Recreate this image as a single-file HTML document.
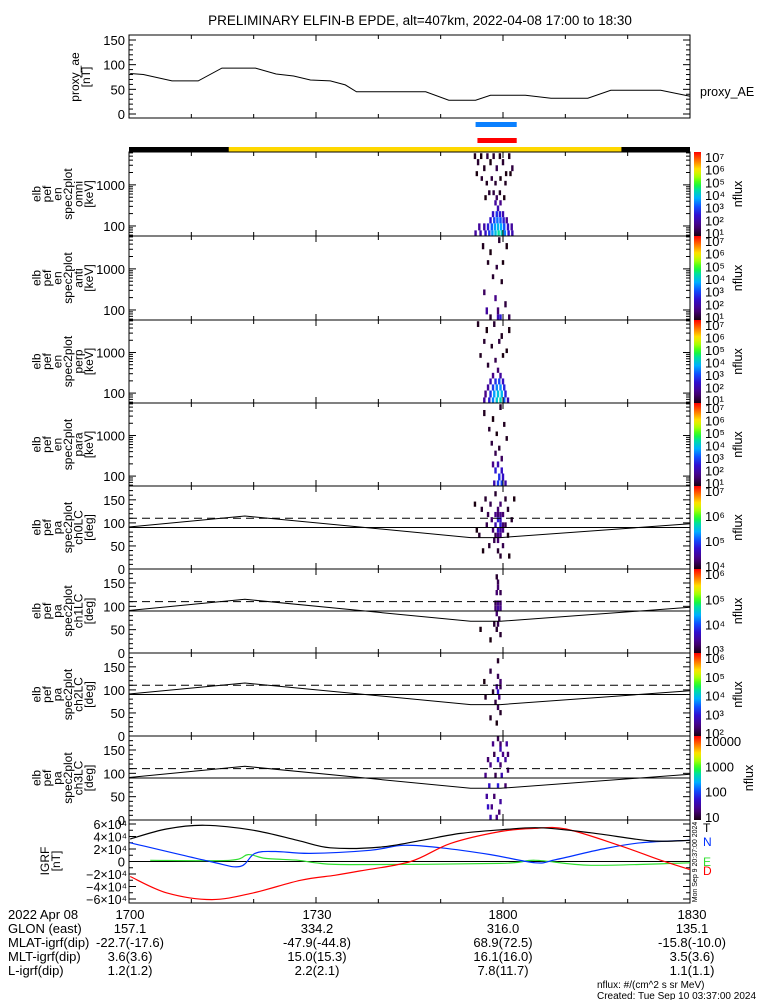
<!DOCTYPE html>
<html><head><meta charset="utf-8"><style>
html,body{margin:0;padding:0;background:#fff;}
svg{display:block;font-family:"Liberation Sans",sans-serif;}
</style></head><body>
<svg id="c" width="775" height="1000" viewBox="0 0 775 1000" xmlns="http://www.w3.org/2000/svg"></svg>
<script>
// ---------- DATA ----------
const aeMinutes=[0.2,2.3,6.9,11.1,14.9,20.3,23.6,26.4,29.1,32.3,34.7,36.5,47.6,51.3,55.6,58,63.6,67.7,73.6,77.3,85.3,90];
const aeValues=[82,80,67,67,93,93,81,77,69,67,59,45,45,28,28,38,38,32,32,48,48,36];
const igrfTMin=[0.2,6,12.2,20,27,32.3,40.3,47,53.2,60,66,74.1,83.7,90];
const igrfT=[3.6e4,5.2e4,5.8e4,5.0e4,3.4e4,2.2e4,2.3e4,3.4e4,4.5e4,5.1e4,5.4e4,4.6e4,3.3e4,3.4e4];
const igrfDMin=[0.2,6,13.3,20,27.5,33,37.1,45.2,51.6,59.6,65,70.1,78.9,85,90];
const igrfD=[-2.4e4,-5.0e4,-6.1e4,-5.0e4,-3.0e4,-2.2e4,-1.5e4,0,2.9e4,4.8e4,5.3e4,5.2e4,2.5e4,0.3e4,-1.3e4];
const igrfNMin=[0.2,13,17.8,20.2,23.5,29.1,38.7,44,50,58,65.2,68.5,76,82.1,90];
const igrfN=[3.0e4,0,-0.8e4,1.3e4,1.6e4,1.3e4,1.8e4,2.6e4,2.2e4,1.1e4,-0.2e4,0.3e4,2.0e4,3.0e4,3.4e4];
const igrfEMin=[3.4,16.2,19.1,21.9,27.2,29.9,35.5,59.6,65.2,74.1,90];
const igrfE=[0.2e4,0.2e4,1.1e4,0.5e4,0.2e4,-0.2e4,-0.5e4,-0.3e4,0.2e4,-0.6e4,-0.2e4];
const lcMin=[0,18.6,54.8,59.6,90];
const lcDeg=[91,115,68,68,98];
const dashedDeg=110;
const energyBins=[63,97,138,194,271,367,489,645,847,1104,1424,1865,2496,3604,5000];
const specOmni=[[55.5,14,1.1],[56,13,1.2],[56.5,14,1.0],[57,12,1.1],[57.5,14,1.3],[58,13,1.0],[58.5,14,1.2],[59,12,1.4],[59.5,14,1.1],[60,13,1.2],[60.5,11,1.0],[61,14,1.1],[61.5,12,1.3],[55.8,11,1.0],[56.6,10,1.2],[57.4,9,1.1],[58.2,10,1.3],[58.8,9,1.2],[59.6,10,1.0],[60.4,9,1.1],[61.2,11,1.0],[57.8,7,1.2],[58.5,7,1.3],[59,6,1.5],[59.5,7,1.1],[60.2,6,1.0],[57.2,6,1.0],[58.8,5,2.0],[59.2,4,2.2],[59.6,5,1.8],[58.4,3,2.4],[59,3,2.8],[59.5,3,2.6],[60,3,2.2],[58,2,2.5],[58.6,2,3.0],[59.1,2,3.3],[59.6,2,3.1],[60.1,2,2.6],[60.6,2,1.9],[56.2,1,2.0],[57,1,2.1],[57.6,1,2.6],[58.2,1,3.2],[58.7,1,3.6],[59.2,1,3.8],[59.7,1,3.7],[60.2,1,3.1],[60.8,1,2.4],[61.4,1,2.0],[55.6,0,2.0],[56.4,0,2.2],[57.2,0,2.4],[57.8,0,2.9],[58.3,0,3.5],[58.8,0,3.9],[59.3,0,4.3],[59.8,0,4.1],[60.3,0,3.4],[60.9,0,2.5],[61.5,0,2.2]];
const specAnti=[[56.8,13,1.1],[58,12,1.0],[59.4,14,1.2],[60.6,13,1.0],[57.6,10,1.1],[59,9,1.3],[60,10,1.0],[58.4,7,1.2],[59.8,6,1.1],[57,4,1.5],[58.8,3,1.8],[60.4,2,1.3],[59.2,1,1.6],[58,0,1.2],[61,0,1.4],[59.6,0,2.6],[59.2,0,2.2],[57.4,1,2.0]];
const specPerp=[[56,14,1.1],[57.4,13,1.0],[58.6,14,1.2],[59.8,12,1.1],[61,13,1.0],[57,11,1.2],[58.2,10,1.1],[59.4,11,1.3],[60.6,9,1.0],[56.4,8,1.1],[58.8,7,1.4],[60,8,1.0],[57.6,6,1.2],[59.2,5,1.6],[58.4,4,1.8],[59.6,4,2.0],[58,3,2.2],[58.8,3,2.8],[59.4,3,3.0],[60,3,2.4],[57.6,2,2.0],[58.4,2,2.9],[59,2,3.4],[59.6,2,3.5],[60.2,2,2.7],[57.2,1,1.8],[58,1,2.8],[58.6,1,3.6],[59.2,1,3.9],[59.8,1,3.8],[60.4,1,2.6],[57,0,2.0],[57.8,0,2.6],[58.4,0,3.4],[59,0,4.0],[59.6,0,4.2],[60.2,0,3.2],[60.8,0,2.2]];
const specPara=[[57,13,1.1],[58.4,12,1.0],[59.6,14,1.2],[60.2,11,1.1],[57.8,10,1.2],[59,9,1.0],[60.6,8,1.1],[58.2,7,1.3],[59.4,6,1.2],[58.8,5,1.4],[59.8,4,1.5],[58.4,3,1.8],[59.2,3,2.2],[59.8,2,2.4],[58.8,2,2.6],[59.4,1,2.8],[60,1,2.4],[58.6,0,2.2],[59.2,0,2.9],[59.8,0,3.0],[60.4,0,2.1]];
const paCh0=[[55.5,12,4.0],[56.6,11,4.1],[56.2,6,4.1],[55.8,7,4.0],[57.2,13,4.1],[57.6,10,4.2],[57.4,8,4.2],[58,12,4.2],[58.2,9,4.3],[58.4,7,4.3],[58.6,5,4.2],[58.8,14,4.1],[58.8,10,4.4],[58.8,8,4.6],[58.8,6,4.2],[59.2,11,4.3],[59.2,10,4.3],[59.2,9,4.8],[59.2,7,4.7],[59.2,6,4.4],[59.2,5,4.3],[59.2,3,4.1],[59.6,12,4.3],[59.6,10,4.4],[59.6,9,4.7],[59.6,8,4.8],[59.6,7,4.5],[59.6,6,4.4],[59.6,2,4.1],[60,10,4.3],[60,8,4.3],[60,7,4.4],[60,4,4.2],[60.4,13,4.1],[60.4,8,4.2],[60.8,11,4.1],[60.8,6,4.0],[61.4,9,4.1],[61.8,13,4.0],[57.8,4,4.1],[56.8,3,4.0],[61,2,4.0]];
const paCh1=[[59,14,3.1],[59.2,13,3.2],[59.2,12,3.3],[59,11,3.3],[59.6,11,3.2],[58.8,9,3.2],[59.2,9,3.4],[59.6,9,3.3],[58.8,8,3.3],[59.2,8,3.5],[59.6,8,3.4],[59,7,3.3],[59.4,6,3.2],[58.6,5,3.1],[59.2,5,3.2],[59,4,3.1],[59.6,3,3.1],[58,2,3.0],[56.4,4,3.0]];
const paCh2=[[58,12,2.2],[59.2,14,2.1],[59.2,11,2.3],[59.6,10,2.4],[59,9,2.6],[59.6,9,2.3],[58.4,8,2.1],[59.2,8,3.0],[59.4,7,2.5],[58.8,6,2.2],[59.2,5,2.3],[59.6,4,2.1],[57.2,7,2.1],[57,10,2.0],[58,3,2.1],[59,2,2.0]];
const paCh3=[[59.2,15,1.2],[58.4,14,1.4],[59.6,14,1.3],[60.6,14,1.5],[59.6,13,1.6],[58.6,12,1.2],[60,12,1.4],[60.8,12,1.3],[57.6,11,1.3],[59.2,11,1.7],[60.4,11,1.5],[58,10,1.4],[59.6,10,1.3],[60.8,9,1.3],[57.2,8,1.4],[58.8,8,1.2],[59.8,8,1.6],[57.8,6,1.7],[59.2,6,1.8],[60.4,6,1.3],[57.4,4,1.5],[58.6,4,1.3],[59.6,3,1.5],[57.6,2,1.7],[58.2,2,1.4],[59.4,1,1.3],[58,0,1.6],[59,0,1.4]];
const timeTickLabels=["1700","1730","1800","1830"];
const glonLabels=["157.1","334.2","316.0","135.1"];
const mlatLabels=["-22.7(-17.6)","-47.9(-44.8)","68.9(72.5)","-15.8(-10.0)"];
const mltLabels=["3.6(3.6)","15.0(15.3)","16.1(16.0)","3.5(3.6)"];
const lLabels=["1.2(1.2)","2.2(2.1)","7.8(11.7)","1.1(1.1)"];

// ---------- HELPERS ----------
const svg=document.getElementById('c');
const NS='http://www.w3.org/2000/svg';
const X0=129,X1=690;
function xOf(m){return X0+(m/90)*(X1-X0);}
function mk(tag,attrs,parent){const e=document.createElementNS(NS,tag);for(const k in attrs)e.setAttribute(k,attrs[k]);(parent||svg).appendChild(e);return e;}
function txt(s,x,y,opts,parent){const e=mk('text',Object.assign({x:x,y:y,'font-size':12,fill:'#000'},opts||{}),parent);e.textContent=s;return e;}
const stops=[[0,[26,0,16]],[0.12,[74,0,128]],[0.25,[48,16,208]],[0.35,[16,80,255]],[0.45,[0,176,255]],[0.55,[0,224,160]],[0.62,[32,255,32]],[0.72,[192,255,0]],[0.8,[255,224,0]],[0.9,[255,112,0]],[1,[255,0,0]]];
function cmap(t){t=Math.max(0,Math.min(1,t));for(let i=1;i<stops.length;i++){if(t<=stops[i][0]){const a=stops[i-1],b=stops[i];const f=(t-a[0])/(b[0]-a[0]);const c=a[1].map((v,j)=>Math.round(v+(b[1][j]-v)*f));return 'rgb('+c.join(',')+')';}}return 'rgb(255,0,0)';}
function linePath(xs,ys,fx,fy){return xs.map((m,i)=>(i?'L':'M')+fx(m).toFixed(1)+','+fy(ys[i]).toFixed(1)).join(' ');}
function smoothPath(xs,ys,fx,fy){const P=xs.map((m,i)=>[fx(m),fy(ys[i])]);let d='M'+P[0][0].toFixed(1)+','+P[0][1].toFixed(1);
  for(let i=0;i<P.length-1;i++){const p0=P[Math.max(0,i-1)],p1=P[i],p2=P[i+1],p3=P[Math.min(P.length-1,i+2)];
    const c1=[p1[0]+(p2[0]-p0[0])/6,p1[1]+(p2[1]-p0[1])/6],c2=[p2[0]-(p3[0]-p1[0])/6,p2[1]-(p3[1]-p1[1])/6];
    d+=' C'+c1[0].toFixed(1)+','+c1[1].toFixed(1)+' '+c2[0].toFixed(1)+','+c2[1].toFixed(1)+' '+p2[0].toFixed(1)+','+p2[1].toFixed(1);}
  return d;}

const defs=mk('defs',{});
const grad=mk('linearGradient',{id:'cb',x1:0,y1:1,x2:0,y2:0},defs);
for(let i=0;i<=20;i++){mk('stop',{offset:(i/20),'stop-color':cmap(i/20)},grad);}

// ---------- TITLE ----------
const title=txt('PRELIMINARY ELFIN-B EPDE, alt=407km, 2022-04-08 17:00 to 18:30',420,25,{'font-size':13.5,'text-anchor':'middle'});



function frame(top,bot,name){
  const g=mk('g',{});
  
  
  mk('rect',{x:X0,y:top,width:X1-X0,height:bot-top,fill:'none',stroke:'#000','stroke-width':1},g);
  for(let m=0;m<=90;m+=10){const x=xOf(m);const L=(m%30===0)?6:4;
    mk('line',{x1:x,y1:top,x2:x,y2:top+L,stroke:'#000'},g);mk('line',{x1:x,y1:bot,x2:x,y2:bot-L,stroke:'#000'},g);}
  return g;
}
function yTick(g,y,major){const L=major?7:4;mk('line',{x1:X0,y1:y,x2:X0+L,y2:y,stroke:'#000'},g);mk('line',{x1:X1,y1:y,x2:X1-L,y2:y,stroke:'#000'},g);}
function rotLabel(lines,cy,xEnd,step,name){
  const g=mk('g',{});
  
  
  const n=lines.length;
  lines.forEach((s,i)=>{const x=xEnd-(n-1-i)*step;txt(s,x,cy,{'text-anchor':'middle',transform:'rotate(-90 '+x+' '+cy+')','font-size':12},g);});
  return g;
}

// ---------- PROXY AE ----------
const aeTop=35,aeBot=118;
const aeY=v=>114-(v/150)*74;
const gAE=frame(aeTop,aeBot,'proxy-ae-panel');
for(let v=0;v<=150;v+=10)yTick(gAE,aeY(v),v%50===0);
[0,50,100,150].forEach(v=>{const t=txt(String(v),125,aeY(v)+5,{'text-anchor':'end','font-size':13},gAE);});
const aeLine=mk('path',{d:linePath(aeMinutes,aeValues,xOf,aeY),fill:'none',stroke:'#000','stroke-width':1});


const aeLeg=txt('proxy_AE',700,96,{'font-size':12.5});


rotLabel(['proxy_ae','[nT]'],77,90,11,'ae-y-axis-title');

const blueBar=mk('rect',{x:xOf(55.6),y:122,width:xOf(62.2)-xOf(55.6),height:5,fill:'#0a80ff'});


const redBar=mk('rect',{x:xOf(55.9),y:138,width:xOf(62.2)-xOf(55.9),height:5,fill:'#ff0000'});


const darkBar=mk('rect',{x:X0,y:147,width:X1-X0,height:5,fill:'#000'});


const sunBar=mk('rect',{x:xOf(16),y:147,width:xOf(79)-xOf(16),height:5,fill:'#ffd800'});



// ---------- PANELS ----------
const tops=[152,236,320,403,486,569,653,736,820];
const specSets=[specOmni,specAnti,specPerp,specPara];
const specNames=['omni','anti','perp','para'];
const paSets=[paCh0,paCh1,paCh2,paCh3];
const paRanges=[[4,7],[3,6],[2,6],[1,4]];
const LOGMIN=1.756,LOGMAX=3.80;
const eLog=energyBins.map(e=>Math.log10(e));
const eEdges=eLog.map((l,i)=>{const lo=i?(l+eLog[i-1])/2:l-(eLog[1]-eLog[0])/2;const hi=i<eLog.length-1?(l+eLog[i+1])/2:l+(l-eLog[i-1])/2;return[lo,hi];});
const sup=['\u2070','\u00b9','\u00b2','\u00b3','\u2074','\u2075','\u2076','\u2077'];
const CW=2.4;

function colorbar(top,bot,lo,hi,linearLbl,name){
  const g=mk('g',{});
  
  
  mk('rect',{x:694,y:top,width:7,height:bot-top,fill:'url(#cb)'},g);
  const n=hi-lo;
  for(let k=lo;k<=hi;k++){const y=bot-3-(k-lo)/n*(bot-top-8);
    const s=linearLbl?String(Math.pow(10,k)):'10'+sup[k];
    txt(s,705,y+5,{'font-size':13},g);}
  const cy=(top+bot)/2;const xx=linearLbl?753:742;
  txt('nflux',xx,cy,{'text-anchor':'middle',transform:'rotate(-90 '+xx+' '+cy+')','font-size':12.5},g);
}

for(let p=0;p<4;p++){
  const top=tops[p],bot=tops[p+1],h=bot-top;
  const yE=l=>bot-(l-LOGMIN)/(LOGMAX-LOGMIN)*h;
  const cells=mk('g',{});
  
  
  specSets[p].forEach(c=>{const ed=eEdges[c[1]];const y1=Math.max(top,yE(ed[1]));const y2=yE(ed[0]);
    const r=mk('rect',{x:xOf(c[0])-CW/2,y:y1,width:CW,height:Math.max(0,Math.min(bot,y2)-y1),fill:cmap((c[2]-1)/6)},cells);
    
    });
  const g=frame(top,bot,'energy-spectrogram-'+specNames[p]);
  for(let d=1;d<=3;d++)for(let k=1;k<10;k++){const l=d+Math.log10(k);if(l<LOGMIN||l>LOGMAX)continue;yTick(g,yE(l),k===1);}
  [[2,'100'],[3,'1000']].forEach(a=>txt(a[1],125,yE(a[0])+5,{'text-anchor':'end','font-size':13},g));
  rotLabel(['elb','pef','en','spec2plot',specNames[p],'[keV]'],(top+bot)/2,93,10.5,'energy-y-axis-title-'+specNames[p]);
  colorbar(top,bot,1,7,false,'colorbar-'+specNames[p]);
}
for(let p=0;p<4;p++){
  const top=tops[p+4],bot=tops[p+5],h=bot-top;
  const yD=d=>bot-d/180*h;
  const rng=paRanges[p];
  const cells=mk('g',{});
  
  
  paSets[p].forEach(c=>{const y1=yD((c[1]+1)*11.25),y2=yD(c[1]*11.25);
    const r=mk('rect',{x:xOf(c[0])-CW/2,y:y1,width:CW,height:y2-y1,fill:cmap((c[2]-rng[0])/(rng[1]-rng[0]))},cells);
    
    });
  const g=frame(top,bot,'pitch-angle-panel-ch'+p);
  for(let d=0;d<=180;d+=10)yTick(g,yD(d),d%50===0);
  [0,50,100,150].forEach(d=>txt(String(d),125,yD(d)+5,{'text-anchor':'end','font-size':13},g));
  const l90=mk('line',{x1:X0,y1:yD(90),x2:X1,y2:yD(90),stroke:'#000'},g);
  
  
  const dl=mk('line',{x1:X0,y1:yD(dashedDeg),x2:X1,y2:yD(dashedDeg),stroke:'#000','stroke-dasharray':'8,5'},g);
  
  
  const lc=mk('path',{d:linePath(lcMin,lcDeg,xOf,yD),fill:'none',stroke:'#000'},g);
  
  
  rotLabel(['elb','pef','pa','spec2plot','ch'+p+'LC','[deg]'],(top+bot)/2,93,10.5,'pa-y-axis-title-ch'+p);
  colorbar(top,bot,rng[0],rng[1],p===3,'colorbar-ch'+p);
}

// ---------- IGRF ----------
const iTop=820,iBot=903;
const yI=v=>861.5-v/6e4*37.5;
const gI=frame(iTop,iBot,'igrf-panel');
for(let v=-6e4;v<=6e4;v+=1e4)yTick(gI,yI(v),v%2e4===0);
[-6,-4,-2,2,4,6].forEach(k=>{txt((k<0?'\u2212':'')+Math.abs(k)+'\u00d710\u2074',127,yI(k*1e4)+5,{'text-anchor':'end','font-size':12.5},gI);});
txt('0',125,yI(0)+5,{'text-anchor':'end','font-size':13},gI);
const zl=mk('line',{x1:X0,y1:yI(0),x2:X1,y2:yI(0),stroke:'#000'},gI);


[[igrfEMin,igrfE,'#30e030','igrf-e-line'],[igrfNMin,igrfN,'#0030ff','igrf-n-line'],[igrfDMin,igrfD,'#ff0000','igrf-d-line'],[igrfTMin,igrfT,'#000','igrf-t-line']].forEach(s=>{
  const p=mk('path',{d:smoothPath(s[0],s[1],xOf,yI),fill:'none',stroke:s[2],'stroke-width':1.2});
  
  });
rotLabel(['IGRF','[nT]'],861,60,11,'igrf-y-axis-title');
[['T',703,832,'#000'],['N',703,846,'#0030ff'],['E',703,866,'#30e030'],['D',703,875,'#ff0000']].forEach(a=>{
  const t=txt(a[0],a[1],a[2],{'font-size':12,fill:a[3]});
  
  });
const stamp=txt('Mon Sep  9 20:37:00 2024',697,862,{'font-size':7,'text-anchor':'middle',transform:'rotate(-90 697 862)'});



// ---------- BOTTOM LABELS ----------
const colX=[130,317,503,692];
const rows=[['2022 Apr 08',timeTickLabels,919],['GLON (east)',glonLabels,933],['MLAT-igrf(dip)',mlatLabels,947],['MLT-igrf(dip)',mltLabels,961],['L-igrf(dip)',lLabels,975]];
rows.forEach((r,ri)=>{
  const g=mk('g',{});
  
  
  txt(r[0],8,r[2],{'font-size':13},g);
  r[1].forEach((s,i)=>txt(s,colX[i],r[2],{'font-size':13,'text-anchor':'middle'},g));
});
const u=txt('nflux: #/(cm^2 s sr MeV)',597,988,{'font-size':10});


const cr=txt('Created: Tue Sep 10 03:37:00 2024',597,999,{'font-size':10});


</script>
</body></html>
